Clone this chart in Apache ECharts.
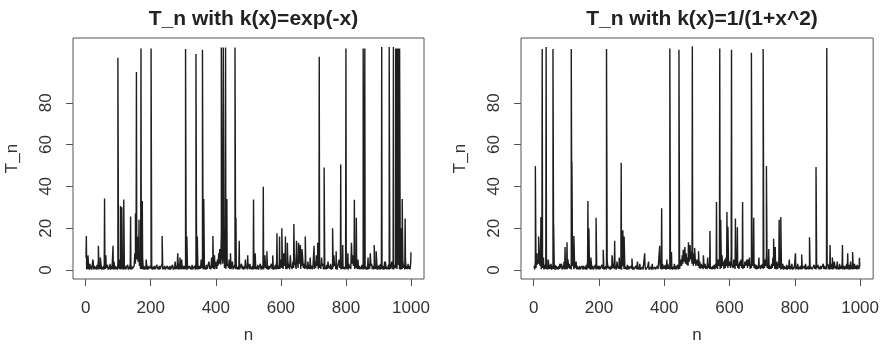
<!DOCTYPE html>
<html>
<head>
<meta charset="utf-8">
<script src="https://cdn.jsdelivr.net/npm/echarts@6/dist/echarts.min.js"></script>
<style>
html,body{margin:0;padding:0;background:#fff;}
#c{width:882px;height:349px;}
</style>
</head>
<body>
<div id="c"></div>
<script>
// ---- data ----
const titles = ['T_n with k(x)=exp(-x)', 'T_n with k(x)=1/(1+x^2)'];
const xTicks = [0, 200, 400, 600, 800, 1000];
const yTicks = [0, 20, 40, 60, 80];
const baseStep = 2; // baseline values listed at n = 1,3,5,...,999

// left panel: baseline values (25 per row = 50 n)
const leftBase = [
  6,0.3,2,0.5,1.5,0.2,3,0.4,2,0.2, 1,4,0.3,2,0.5,1.5,0.2,2.5,0.4,5, 0.3,2,0.6,3,0.2,
  1.5,0.3,2,0.2,6,0.5,1,0.3,2.5,0.2, 1.5,0.4,3,0.2,2,0.5,1,0.2,4,0.3, 2,0.5,1.5,0.2,3,
  2,0.4,5,0.3,2,0.6,1.5,0.2,3,0.4, 2,0.3,1,0.5,2.5,0.2,1.5,0.4,3,0.2, 2,0.5,1,0.3,2,
  8,3,12,5,16,4,7,2,3,0.5, 2,0.4,6,0.3,2,0.2,1.5,0.5,3,0.2, 2,0.4,1,0.3,2,
  0.5,2,0.2,1.5,0.4,2,0.3,1,0.2,2.5, 0.4,1.5,0.2,2,0.5,1,0.3,3,0.2,1.5, 0.4,2,0.3,1,0.2,
  2,0.4,1.5,0.2,2,0.3,1,0.5,2.5,0.2, 1.5,0.4,4,0.3,2,0.5,1,0.2,3,0.4, 2,0.3,5,0.5,2,
  0.3,2,0.5,1.5,0.2,3,0.4,1,0.3,2, 0.5,1.5,0.2,2.5,0.4,1,0.3,2,0.2,3, 0.5,1.5,0.3,2,0.4,
  2,0.5,5,1,3,0.3,2,0.5,1.5,0.2, 2.5,0.4,1,0.3,4,0.5,2,0.3,6,1, 3,0.5,2,0.4,4,
  3,0.5,5,2,8,3,6,2.5,18,7, 3,2.5,6,1,4,0.5,7,2,3,1, 5,0.5,2,0.4,3,
  4,0.3,2,1,3,0.4,2,0.5,1.5,0.2, 2.5,0.4,1,0.3,3,0.5,2,0.2,1.5,0.4, 5,1,2,0.3,3,
  2,0.4,3,0.5,1.5,0.3,2,0.2,4,0.5, 2,0.3,1.5,0.4,2.5,0.2,1,0.4,3,0.2, 2,0.5,1.5,0.3,2.5,
  7,1,2,0.4,1.5,0.2,2,0.5,1,0.3, 3,0.4,2,0.2,1.5,0.5,2.5,0.3,4,0.5, 2,0.4,3,0.5,2,
  5,1,2,0.5,8,2,3,0.5,2,0.4, 6,1,3,0.3,7,2,2.5,0.5,4,1, 10,3,2,0.5,5,
  4,1,12,3,2.5,0.5,9,2,6,1, 3,0.5,5,1,2,0.3,4,0.5,2.5,0.4, 3,0.5,2,0.3,2.5,
  2,0.5,4,1,7,2,3,0.4,5,1, 2.5,0.5,6,2,3,0.3,2,0.5,1.5,0.3, 2.5,0.5,4,1,2,
  0.5,3,0.2,2,0.4,1.5,7,2,3,0.4, 2.5,0.2,1,0.5,5,1,2,0.3,3,0.5, 2,0.4,1.5,0.3,2,
  4,0.4,2.5,0.2,3,1,2,0.5,13,3, 7,2,4,0.5,2.5,1,3,0.4,5,0.5, 2,0.3,1.5,0.4,2.5,
  2.5,0.2,4,0.5,2,0.3,1.5,0.2,2.5,0.4, 3,0.5,8,2,3,0.4,2,0.3,1.5,0.5, 2,0.4,3,0.2,2,
  0.4,2.5,0.2,3,0.5,1.5,0.3,2,0.2,4, 0.5,2,0.3,1.5,0.4,2.5,0.2,3,0.5,1, 4,0.4,2,0.3,2.5,
  3,1,5,0.5,4,2.5,6,0.4,2,0.2, 3,0.5,4,1,2.5,0.3,5,0.5,2,0.4, 3,0.5,2,0.3,3
];
// left panel: spikes [n, T_n]
const leftSpikes = [
  [2,16.3],[7,7],[22,5],[39,11.6],[45,6],[58,34.2],[62,7],[84,11.6],[99,101.5],[107,30.6],
  [111,30],[117,33.7],[138,25.6],[153,27],[156,94.7],[160,16],[164,24],[170,106],[174,33],[186,5],
  [201,106],[235,16.3],[283,8],[290,6],[307,105.7],[311,16],[339,103.4],[343,16],[359,105.4],[363,34],
  [391,16.3],[396,7],[412,10],[417,106.5],[418,47.8],[423,106.5],[427,20],[430,106.5],[434,34],[445,8],
  [459,106.5],[462,25],[472,14],[498,7],[516,33.7],[521,8],[546,39.8],[557,9],[575,7],[588,17.6],
  [596,16],[603,20],[614,16],[620,13],[640,22],[648,14],[654,13],[660,12],[665,10],[675,16],
  [690,6],[702,11.6],[713,13],[718,102],[733,49],[759,20],[770,9],[784,50.5],[790,12],[800,106],
  [806,8],[826,33.6],[832,25],[853,106],[858,106],[868,6],[887,12],[893,9],[910,106.7],[921,4],
  [933,106.7],[946,106.7],[953,106],[957,106],[961,106],[965,106],[969,20],[973,34],[982,24.6],[1000,8.5]
];

// right panel: baseline values (25 per row = 50 n)
const rightBase = [
  2,0.3,4,1,7,2.5,5,3,8,2, 6,0.4,3,1,5,0.2,2.5,0.5,3,0.4, 2,0.3,4,0.5,2.5,
  0.4,3,0.2,2,0.5,1.5,0.3,2.5,0.2,2, 0.4,1.5,0.2,2,0.5,1,0.4,3,0.2,2, 0.5,4,0.3,2,0.4,
  2.5,0.4,5,1,3,0.5,2,0.3,6,2, 3,0.4,4,1,2.5,0.3,2,0.5,1.5,0.2, 2,0.4,1,0.3,2,
  0.2,2,0.4,1.5,0.3,2.5,0.2,4,1,2, 0.5,1.5,0.2,2.5,0.4,2,0.3,1,0.5,2.5, 0.2,1.5,0.4,2,0.3,
  2,0.4,1,0.2,2.5,0.5,3,0.2,1.5,0.4, 2,0.3,5,1,2,0.4,1.5,0.2,2,0.5, 6,1,3,0.4,2,
  2.5,0.3,4,1,2,0.5,3,0.4,2,0.2, 5,2,3,0.5,2,0.4,1.5,0.2,2.5,0.3, 2,0.5,1,0.3,2,
  0.5,0.2,1.5,0.3,1,0.2,2,0.4,1,0.2, 1.5,0.3,3,0.2,1,0.4,1.5,0.2,1,0.3, 2,0.2,1,0.4,1.5,
  1.5,0.2,1,0.3,1.5,0.2,3,0.4,1,0.2, 1.5,0.3,1,0.2,2,0.4,1,0.3,2.5,0.5, 1.5,0.3,3,0.5,2,
  0.5,2.5,0.2,2,0.4,3,0.5,2,0.3,1.5, 0.4,2,0.2,1.5,0.5,3,0.3,2,0.4,1, 2.5,0.3,2,0.5,3,
  5,2,7,3,9,4,11,3,8,2.5, 6,2,10,4,12,5,9,3,6,2, 8,3,5,2,4,
  5,2,3,1,4,0.5,3,1,2.5,0.4, 4,1,3,0.5,2,0.4,6,1,3,0.5, 2,0.4,1.5,0.3,2,
  0.5,2.5,0.3,3,1,2,0.5,5,2,3, 0.5,2.5,1,7,2,4,0.5,3,1,6, 2,4,1,3,2,
  4,1,6,2.5,3,1,5,2,0.5,4, 2,6,1,3,0.5,4,2,5,1,3, 0.5,2.5,1,4,2,
  2.5,5,1,4,2,6,0.5,3,1,4, 2,5,1,3,0.5,2.5,0.3,2,0.5,3, 1,2,0.4,2.5,1,
  3,0.5,2.5,1,5,2,7,1,3,0.5, 2.5,0.4,2,0.5,3,1,6,2,3,0.5, 2,0.3,4,0.5,2,
  4,1,2.5,0.3,2,0.5,3,0.2,2,0.4, 1.5,0.3,2.5,0.2,2,0.5,1,0.3,2,0.4, 3,0.2,1.5,0.4,2,
  2.5,0.3,2,0.5,3,0.2,1.5,0.4,2,0.3, 2.5,0.5,1,0.3,2,0.4,3,0.2,1.5,0.4, 2,0.3,2.5,0.5,1.5,
  2,0.4,1,0.2,2.5,0.5,2,0.3,1,0.2, 2.5,0.4,1.5,0.3,2,0.5,1,0.2,3,0.4, 2,0.5,1.5,0.3,2,
  3,0.4,2.5,0.2,2,0.5,3,0.3,1.5,0.4, 4,1,2,0.3,2.5,0.5,1.5,0.2,3,0.4, 2,0.5,3,0.3,2,
  2.5,0.2,2,0.5,3,0.4,1.5,0.3,2.5,0.2, 4,0.5,2,0.3,1.5,0.4,3,0.5,2,0.3, 2.5,0.4,2,0.5,1.5
];
// right panel: spikes [n, T_n]
const rightSpikes = [
  [2,2],[5,49.7],[10,8],[15,16],[18,8],[22,25.4],[26,105.7],[30,6],[38,106.7],[44,5],
  [59,105.7],[61,21.8],[80,3],[96,11],[102,13.3],[115,105.7],[117,51.8],[123,16.3],[130,4],[166,33],
  [169,20],[175,6],[191,25],[213,9.7],[223,105.7],[240,7],[248,14],[262,6],[268,51.3],[273,19],
  [277,16],[301,5.5],[318,4],[340,8],[352,4],[386,11.6],[392,29.6],[408,5],[417,106],[422,8.6],
  [445,105.4],[458,9.7],[466,7],[474,13.3],[480,12],[486,107],[493,10.5],[505,9],[520,7],[540,18.7],
  [560,32.5],[570,106],[573,24],[585,5],[592,27.8],[595,20.7],[606,105.4],[618,24.6],[624,20.4],[640,32.5],
  [655,5],[667,104],[674,25],[690,6],[703,105.7],[713,49.7],[720,10],[735,15],[740,11],[752,24],
  [757,25.4],[783,5],[802,8],[821,7.4],[845,15.7],[865,49.3],[898,106.2],[908,12],[915,6],[930,4],
  [946,12],[962,8],[977,8.6],[998,5.8]
];

// ---- build series points from the arrays ----
function buildPoints(base, spikes) {
  const pts = base.map((v, i) => [i * baseStep + 1, v]);
  spikes.forEach(s => pts.push([s[0], s[1]]));
  pts.sort((a, b) => a[0] - b[0]);
  return pts;
}
const leftData = buildPoints(leftBase, leftSpikes);
const rightData = buildPoints(rightBase, rightSpikes);

const textColor = '#333';
const fontFam = '"Liberation Sans", Arial, Helvetica, sans-serif';
const boxColor = '#555';
const grids = [
  {left: 73, right: 458, top: 38, bottom: 66},
  {left: 521, right: 8, top: 38, bottom: 66}
];

function xAxisFor(i) {
  return {
    gridIndex: i, type: 'value', min: -39, max: 1040,
    name: 'n', nameLocation: 'middle', nameGap: 48,
    nameTextStyle: {fontSize: 17, color: textColor, fontFamily: fontFam},
    axisLine: {show: false, onZero: false},
    splitLine: {show: false},
    axisTick: {show: true, inside: false, customValues: xTicks, length: 7, lineStyle: {color: boxColor, width: 1}},
    axisLabel: {show: true, customValues: xTicks, margin: 21, fontSize: 17, color: textColor, fontFamily: fontFam,
      formatter: v => String(v)}
  };
}
function yAxisFor(i) {
  return {
    gridIndex: i, type: 'value', min: -4.3, max: 111,
    name: 'T_n', nameLocation: 'middle', nameGap: 52,
    nameTextStyle: {fontSize: 17, color: textColor, fontFamily: fontFam},
    axisLine: {show: false, onZero: false},
    splitLine: {show: false},
    axisTick: {show: true, inside: false, customValues: yTicks, length: 7, lineStyle: {color: boxColor, width: 1}},
    axisLabel: {show: true, customValues: yTicks, rotate: 90, margin: 18, fontSize: 17, color: textColor, fontFamily: fontFam,
      formatter: v => String(v)}
  };
}

const chart = echarts.init(document.getElementById('c'), null, {renderer: 'canvas'});
chart.setOption({
  animation: false,
  backgroundColor: '#fff',
  title: [
    {text: titles[0], left: 248.5, top: 4, textAlign: 'center',
     textStyle: {fontSize: 21, fontWeight: 'bold', color: '#222', fontFamily: fontFam}},
    {text: titles[1], left: 697, top: 4, textAlign: 'center',
     textStyle: {fontSize: 21, fontWeight: 'bold', color: '#222', fontFamily: fontFam}}
  ],
  grid: grids.map(g => Object.assign({show: true, borderColor: boxColor, borderWidth: 1, backgroundColor: 'transparent'}, g)),
  xAxis: [xAxisFor(0), xAxisFor(1)],
  yAxis: [yAxisFor(0), yAxisFor(1)],
  series: [
    {type: 'line', xAxisIndex: 0, yAxisIndex: 0, data: leftData, showSymbol: false, clip: true, sampling: null,
     lineStyle: {color: '#1e1e1e', width: 1.4}, silent: true},
    {type: 'line', xAxisIndex: 1, yAxisIndex: 1, data: rightData, showSymbol: false, clip: true, sampling: null,
     lineStyle: {color: '#1e1e1e', width: 1.4}, silent: true}
  ]
});
</script>
</body>
</html>
